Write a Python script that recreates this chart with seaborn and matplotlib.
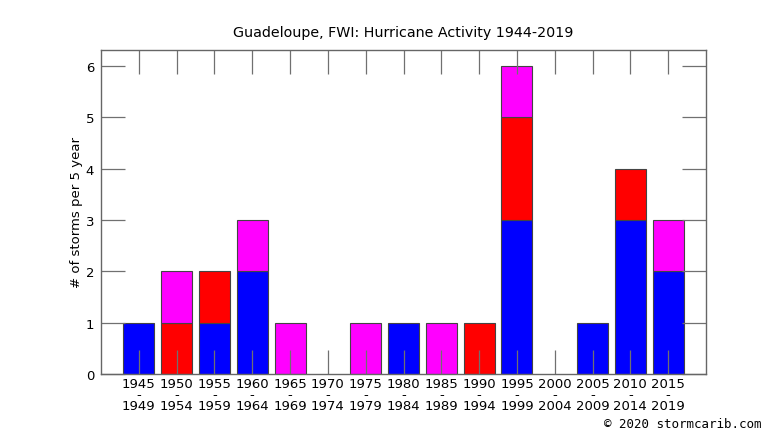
import numpy as np
import seaborn as sns
import matplotlib.pyplot as plt

# 5-year periods
starts = [1945, 1950, 1955, 1960, 1965, 1970, 1975, 1980, 1985, 1990, 1995, 2000, 2005, 2010, 2015]
ends = [1949, 1954, 1959, 1964, 1969, 1974, 1979, 1984, 1989, 1994, 1999, 2004, 2009, 2014, 2019]

# stacked counts (bottom -> top)
blue_counts = [1, 0, 1, 2, 0, 0, 0, 1, 0, 0, 3, 0, 1, 3, 2]
red_counts = [0, 1, 1, 0, 0, 0, 0, 0, 0, 1, 2, 0, 0, 1, 0]
magenta_counts = [0, 1, 0, 1, 1, 0, 1, 0, 1, 0, 1, 0, 0, 0, 1]

labels = [f"{a}\n-\n{b}" for a, b in zip(starts, ends)]

sns.set_style("white")
plt.rcParams['font.family'] = ['DejaVu Sans']
plt.rcParams['text.color'] = 'black'

fig = plt.figure(figsize=(7.66, 4.31), dpi=100)
ax = fig.add_axes([101 / 766, 56 / 431, 605 / 766, 324 / 431])

blue = np.array(blue_counts)
red = np.array(red_counts)
mag = np.array(magenta_counts)

layers = [(blue, np.zeros_like(blue), "#0000ff"),
          (red, blue, "#ff0000"),
          (mag, blue + red, "#ff00ff")]
for vals, base, col in layers:
    sns.barplot(x=labels, y=vals, bottom=base, color=col, width=0.82,
                edgecolor="#444444", linewidth=0.8, saturation=1, ax=ax, zorder=2)

# hide empty segments
for p in ax.patches:
    if p.get_height() == 0:
        p.set_visible(False)

ax.set_xlim(-1, 15)
ax.set_ylim(0, 6.31)
ax.set_yticks(range(7))
ax.tick_params(axis="both", direction="in", length=17, width=0.9, color="#707070",
               left=True, bottom=True, top=True, right=True,
               labelsize=9.5, pad=5, labelcolor="black")
ax.tick_params(axis="x", pad=2)
for lab in ax.get_xticklabels():
    lab.set_linespacing(0.8)
for t in ax.xaxis.get_major_ticks() + ax.yaxis.get_major_ticks():
    t.tick1line.set_zorder(5)
    t.tick2line.set_zorder(5)
ax.set_axisbelow(False)
for s in ax.spines.values():
    s.set_color("#666666")
    s.set_linewidth(1)
    s.set_zorder(6)

ax.set_ylabel("# of storms per 5 year", fontsize=9.5, labelpad=2, color="black")
ax.set_title("Guadeloupe, FWI: Hurricane Activity 1944-2019", fontsize=10.3, pad=10,
             color="black")
fig.text(762 / 766, 1 - 425 / 431, "\u00a9 2020 stormcarib.com", ha="right", va="center",
         fontsize=9, family="DejaVu Sans Mono", color="black")

fig.savefig("out.png", dpi=100)
